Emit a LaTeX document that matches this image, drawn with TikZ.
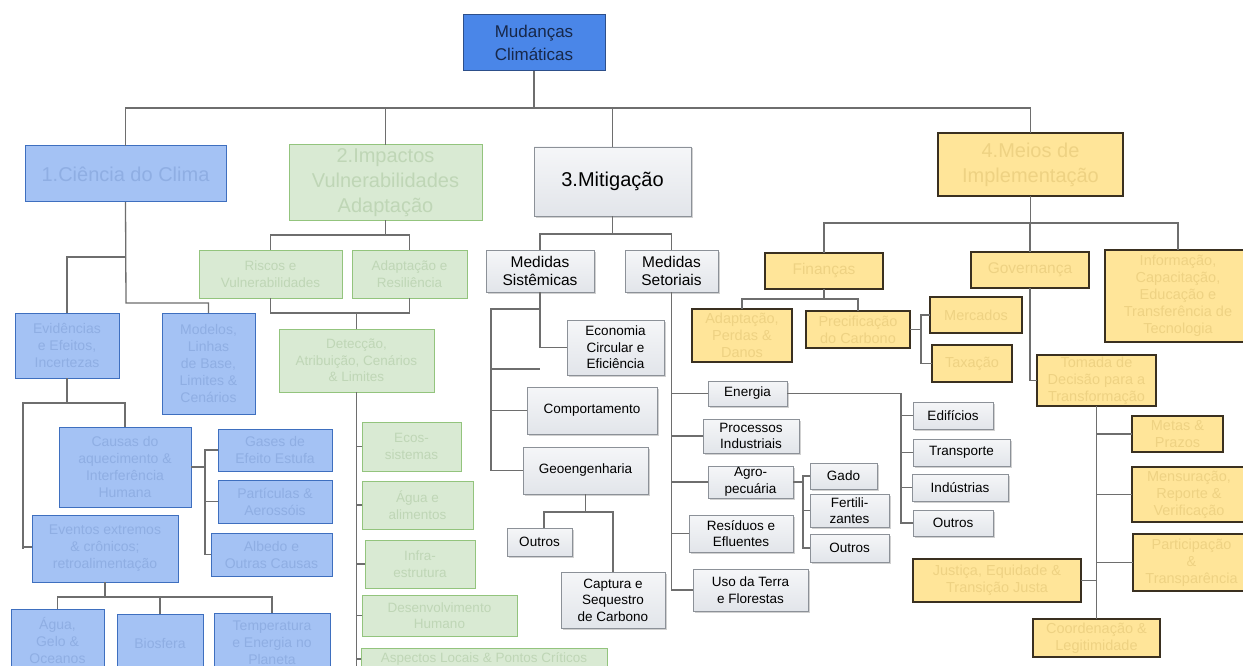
\documentclass[tikz,border=0pt]{standalone}
\usepackage{fontspec}
\setmainfont{Liberation Sans}
\usetikzlibrary{shadows}
\definecolor{rootfill}{HTML}{4A86E8}
\definecolor{rootdraw}{HTML}{2D4F8A}
\definecolor{roottext}{HTML}{17284A}
\definecolor{bfill}{HTML}{A4C2F4}
\definecolor{bdraw}{HTML}{3E6FBF}
\definecolor{btext}{HTML}{8FAEE3}
\definecolor{gfill}{HTML}{D9EAD3}
\definecolor{gdraw}{HTML}{93C47D}
\definecolor{gtext}{HTML}{BFD6B6}
\definecolor{grtop}{HTML}{F5F6F8}
\definecolor{grbot}{HTML}{E2E5EA}
\definecolor{grdraw}{HTML}{8C9198}
\definecolor{yfill}{HTML}{FFE599}
\definecolor{ydraw}{HTML}{3A3020}
\definecolor{ytext}{HTML}{EED283}
\definecolor{lncol}{HTML}{6E6E6E}
\newcommand{\mynode}[7]{\node[#1, minimum width={(#5-#3)*1pt}, minimum height={(#6-#4)*1pt}] (#2) at ({(#3+#5)/2},{(#4+#6)/2}) {#7};}
\tikzset{
  base/.style={inner sep=0pt, outer sep=0pt, align=center},
  rootbox/.style={base, fill=rootfill, draw=rootdraw, line width=1pt, text=roottext},
  bluebox/.style={base, fill=bfill, draw=bdraw, line width=1pt, text=btext},
  greenbox/.style={base, fill=gfill, draw=gdraw, line width=1pt, text=gtext},
  graybox/.style={base, top color=grtop, bottom color=grbot, draw=grdraw, line width=0.8pt, text=black,
    drop shadow={shadow xshift=1.5pt, shadow yshift=-1.5pt, fill=black!40, opacity=0.45}},
  yelbox/.style={base, fill=yfill, draw=ydraw, line width=1.2pt, text=ytext},
  conn/.style={draw=lncol, line width=1.3pt},
  fbig/.style={font=\fontsize{20}{25}\selectfont},
  froot/.style={font=\fontsize{17}{23}\selectfont},
  fmed/.style={font=\fontsize{15.5}{18}\selectfont},
  fsm/.style={font=\fontsize{13.5}{16.5}\selectfont},
  fbl/.style={font=\fontsize{14}{17}\selectfont},
  fyl/.style={font=\fontsize{14.5}{17}\selectfont},
}
\begin{document}
\begin{tikzpicture}[x=1pt,y=-1pt]
\useasboundingbox (0,0) rectangle (1243,666);
\clip (0,0) rectangle (1243,666);
\fill[white] (0,0) rectangle (1243,666);
% ---------- nodes ----------
\mynode{rootbox,froot}{root}{463}{15}{605}{71}{Mudanças\\Climáticas}
\mynode{bluebox,fbig}{cien}{25}{146}{226}{202}{1.Ciência do Clima}
\mynode{greenbox,fbig}{imp}{289}{145}{482}{220}{2.Impactos\\Vulnerabilidades\\Adaptação}
\mynode{graybox,fbig}{mit}{534}{147}{691}{216}{3.Mitigação}
\mynode{yelbox,fbig}{meios}{938}{133}{1123}{196}{4.Meios de\\Implementação}
% blue
\mynode{bluebox,fbl}{evid}{15}{313}{119}{378}{Evidências\\e Efeitos,\\Incertezas}
\mynode{bluebox,fbl}{mod}{162}{313}{255}{414}{Modelos,\\Linhas\\de Base,\\Limites \&\\Cenários}
\mynode{bluebox,fbl}{caus}{59}{427}{191}{507}{Causas do\\aquecimento \&\\Interferência\\Humana}
\mynode{bluebox,fbl}{gases}{218}{429}{332}{471}{Gases de\\Efeito Estufa}
\mynode{bluebox,fbl}{part}{218}{480}{332}{523}{Partículas \&\\Aerossóis}
\mynode{bluebox,fbl}{albedo}{211}{533}{332}{576}{Albedo e\\Outras Causas}
\mynode{bluebox,fbl}{event}{32}{515}{178}{582}{Eventos extremos\\\& crônicos;\\retroalimentação}
\mynode{bluebox,fbl}{agua}{11}{609}{104}{672}{Água,\\Gelo \&\\Oceanos}
\mynode{bluebox,fbl}{bio}{117}{614}{203}{672}{Biosfera}
\mynode{bluebox,fbl}{temp}{214}{613}{330}{672}{Temperatura\\e Energia no\\Planeta}
% green
\mynode{greenbox,fsm}{riscos}{199}{250}{342}{298}{Riscos e\\Vulnerabilidades}
\mynode{greenbox,fsm}{adapt}{352}{250}{467}{298}{Adaptação e\\Resiliência}
\mynode{greenbox,fsm}{detec}{279}{329}{434}{392}{Detecção,\\Atribuição, Cenários\\\& Limites}
\mynode{greenbox,fsm}{ecos}{362}{422}{461}{471}{Ecos-\\sistemas}
\mynode{greenbox,fsm}{aguaal}{362}{481}{473}{529}{Água e\\alimentos}
\mynode{greenbox,fsm}{infra}{365}{540}{475}{588}{Infra-\\estrutura}
\mynode{greenbox,fsm}{desenv}{362}{595}{517}{636}{Desenvolvimento\\Humano}
\mynode{greenbox,fsm}{aspect}{361}{648}{607}{670}{Aspectos Locais \& Pontos Críticos}
% gray
\mynode{graybox,fmed}{medsis}{486}{250}{594}{292}{Medidas\\Sistêmicas}
\mynode{graybox,fmed}{medset}{625}{250}{718}{292}{Medidas\\Setoriais}
\mynode{graybox,fsm}{econ}{567}{320}{664}{375}{Economia\\Circular e\\Eficiência}
\mynode{graybox,fsm}{comp}{527}{387}{657}{434}{Comportamento}
\mynode{graybox,fsm}{geo}{523}{447}{648}{494}{Geoengenharia}
\mynode{graybox,fsm}{outmit}{507}{528}{572}{556}{Outros}
\mynode{graybox,fsm}{capt}{561}{572}{665}{628}{Captura e\\Sequestro\\de Carbono}
\mynode{graybox,fsm}{energ}{708}{381}{787}{406}{Energia}
\mynode{graybox,fsm}{proc}{703}{419}{799}{453}{Processos\\Industriais}
\mynode{graybox,fsm}{agro}{708}{466}{793}{498}{Agro-\\pecuária}
\mynode{graybox,fsm}{resid}{689}{515}{793}{552}{Resíduos e\\Efluentes}
\mynode{graybox,fsm}{uso}{693}{569}{808}{611}{Uso da Terra\\e Florestas}
\mynode{graybox,fsm}{gado}{810}{463}{877}{489}{Gado}
\mynode{graybox,fsm}{fert}{810}{494}{889}{527}{Fertili-\\zantes}
\mynode{graybox,fsm}{outagro}{810}{534}{889}{562}{Outros}
\mynode{graybox,fsm}{edif}{913}{402}{993}{429}{Edifícios}
\mynode{graybox,fsm}{transp}{913}{439}{1010}{466}{Transporte}
\mynode{graybox,fsm}{indus}{912}{474}{1008}{501}{Indústrias}
\mynode{graybox,fsm}{outen}{913}{510}{993}{536}{Outros}
% yellow
\mynode{yelbox,fmed}{fin}{765}{253}{883}{289}{Finanças}
\mynode{yelbox,fmed}{gov}{971}{252}{1089}{288}{Governança}
\mynode{yelbox,fyl}{info}{1105}{250}{1251}{342}{Informação,\\Capacitação,\\Educação e\\Transferência de\\Tecnologia}
\mynode{yelbox,fyl}{adpd}{692}{309}{792}{362}{Adaptação,\\Perdas \&\\Danos}
\mynode{yelbox,fyl}{prec}{806}{311}{910}{348}{Precificação\\do Carbono}
\mynode{yelbox,fyl}{merc}{930}{297}{1022}{333}{Mercados}
\mynode{yelbox,fyl}{tax}{932}{345}{1012}{382}{Taxação}
\mynode{yelbox,fyl}{toma}{1037}{355}{1156}{406}{Tomada de\\Decisão para a\\Transformação}
\mynode{yelbox,fyl}{metas}{1132}{416}{1223}{452}{Metas \&\\Prazos}
\mynode{yelbox,fyl}{mens}{1132}{467}{1246}{522}{Mensuração,\\Reporte \&\\Verificação}
\mynode{yelbox,fyl}{partic}{1133}{534}{1250}{591}{Participação\\\&\\Transparência}
\mynode{yelbox,fyl}{just}{913}{559}{1081}{602}{Justiça, Equidade \&\\Transição Justa}
\mynode{yelbox,fyl}{coord}{1033}{619}{1160}{657}{Coordenação \&\\Legitimidade}
% ---------- connectors ----------
% main bus
\draw[conn] (root.south) -- (root.south |- 0,108);
\draw[conn] (cien.north) -- (cien.north |- 0,108) -- (meios.north |- 0,108) -- (meios.north);
\draw[conn] (imp.north) -- (imp.north |- 0,108);
\draw[conn] (mit.north) -- (mit.north |- 0,108);
% column 1
\draw[conn] (cien.south) -- (126,303) -- (mod.north |- 0,303) -- (mod.north);
\draw[conn] (126,257) -- (evid.north |- 0,257) -- (evid.north);
\draw[conn] (evid.south) -- (evid.south |- 0,403);
\draw[conn] (event.west -| 23,0) -- (23,403) -- (caus.north |- 0,403) -- (caus.north);
\draw[conn] (23,547) -- (event.west |- 0,547);
\draw[conn] (caus.east) -- (205,467);
\draw[conn] (gases.west) -- (205,450) |- (albedo.west);
\draw[conn] (part.west) -- (part.west -| 205,0);
\draw[conn] (event.south) -- (event.south |- 0,597);
\draw[conn] (agua.north) |- (temp.north |- 0,597) -- (temp.north);
\draw[conn] (bio.north) -- (bio.north |- 0,597);
% column 2
\draw[conn] (imp.south) -- (imp.south |- 0,235);
\draw[conn] (riscos.north) |- (adapt.north |- 0,235) -- (adapt.north);
\draw[conn] (riscos.south) |- (adapt.south |- 0,313) -- (adapt.south);
\draw[conn] (detec.north) -- (detec.north |- 0,313);
\draw[conn] (detec.south) -- (detec.south |- 0,672);
\foreach \n in {ecos,aguaal,infra,desenv,aspect}
  \draw[conn] (\n.west) -- (\n.west -| detec.south);
% column 3
\draw[conn] (mit.south) -- (mit.south |- 0,234);
\draw[conn] (medsis.north) |- (medset.north |- 0,234) -- (medset.north);
\draw[conn] (medsis.south) |- (econ.west);
\draw[conn] (medsis.south |- 0,309) -- (491,309) |- (geo.west);
\draw[conn] (491,369) -- (medsis.south |- 0,369);
\draw[conn] (comp.west) -- (comp.west -| 491,0);
\draw[conn] (geo.south) -- (geo.south |- 0,512);
\draw[conn] (544,528) -- (544,512) -| (capt.north);
\draw[conn] (medset.south) -- (medset.south |- uso.west) -- (uso.west);
\foreach \n in {energ,proc,agro,resid}
  \draw[conn] (\n.west) -- (\n.west -| medset.south);
\draw[conn] (agro.east) -- (agro.east -| 803,0);
\draw[conn] (gado.west) -- (803,476) |- (outagro.west);
\draw[conn] (fert.west) -- (fert.west -| 803,0);
\draw[conn] (energ.east) -| (901,523) -- (outen.west);
\foreach \n in {edif,transp,indus}
  \draw[conn] (\n.west) -- (\n.west -| 901,0);
% column 4
\draw[conn] (meios.south) -- (meios.south |- 0,223);
\draw[conn] (fin.north) |- (info.north |- 0,223) -- (info.north);
\draw[conn] (gov.north) -- (gov.north |- 0,223);
\draw[conn] (fin.south) -- (fin.south |- 0,299);
\draw[conn] (adpd.north) |- (prec.north |- 0,299) -- (prec.north);
\draw[conn] (prec.east) -- (prec.east -| 921,0);
\draw[conn] (merc.west) -- (921,315) |- (tax.west);
\draw[conn] (gov.south) |- (toma.west);
\draw[conn] (toma.south) -- (coord.north);
\foreach \n in {metas,mens,partic}
  \draw[conn] (\n.west) -- (\n.west -| toma.south);
\draw[conn] (just.east) -- (just.east -| toma.south);
\end{tikzpicture}
\end{document}
